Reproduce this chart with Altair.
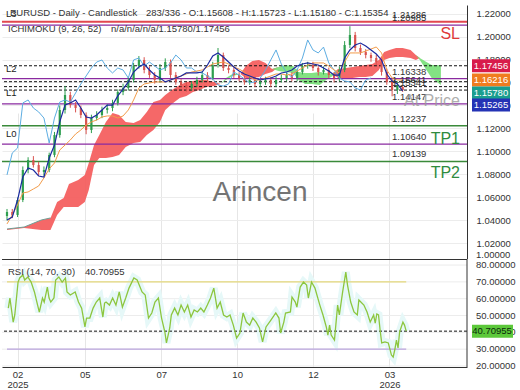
import altair as alt
import pandas as pd

# ---------------- data ----------------
candle_bar = list(range(0, 304, 4))
candle_open = [1.0440, 1.0474, 1.0448, 1.0578, 1.0839, 1.0926, 1.0882, 1.0822, 1.0839, 1.0970,
               1.1143, 1.1361, 1.1491, 1.1404, 1.1378, 1.1317, 1.1187, 1.1291, 1.1317, 1.1361,
               1.1378, 1.1422, 1.1517, 1.1552, 1.1622, 1.1743, 1.1796, 1.1709, 1.1665, 1.1622,
               1.1726, 1.1778, 1.1665, 1.1605, 1.1578, 1.1552, 1.1587, 1.1622, 1.1665, 1.1639,
               1.1752, 1.1839, 1.1726, 1.1709, 1.1665, 1.1639, 1.1605, 1.1622, 1.1587, 1.1605,
               1.1622, 1.1587, 1.1622, 1.1639, 1.1665, 1.1639, 1.1691, 1.1743, 1.1752, 1.1726,
               1.1691, 1.1709, 1.1665, 1.1639, 1.1709, 1.1926, 1.2013, 1.1900, 1.1865, 1.1839,
               1.1813, 1.1778, 1.1691, 1.1605, 1.1535, 1.1561]
candle_high = [1.0500, 1.0500, 1.0600, 1.0870, 1.0950, 1.0960, 1.0910, 1.0870, 1.0990, 1.1170,
               1.1400, 1.1570, 1.1520, 1.1430, 1.1400, 1.1340, 1.1320, 1.1350, 1.1390, 1.1410,
               1.1450, 1.1540, 1.1590, 1.1650, 1.1770, 1.1830, 1.1820, 1.1740, 1.1690, 1.1760,
               1.1810, 1.1800, 1.1690, 1.1630, 1.1600, 1.1610, 1.1650, 1.1700, 1.1690, 1.1780,
               1.1900, 1.1860, 1.1750, 1.1730, 1.1690, 1.1660, 1.1650, 1.1650, 1.1630, 1.1650,
               1.1650, 1.1650, 1.1670, 1.1690, 1.1690, 1.1720, 1.1770, 1.1780, 1.1780, 1.1750,
               1.1740, 1.1730, 1.1690, 1.1740, 1.1960, 1.2090, 1.2040, 1.1930, 1.1890, 1.1860,
               1.1840, 1.1800, 1.1720, 1.1630, 1.1610, 1.1572]
candle_low = [1.0400, 1.0420, 1.0430, 1.0560, 1.0810, 1.0860, 1.0790, 1.0790, 1.0820, 1.0950,
              1.1120, 1.1330, 1.1380, 1.1340, 1.1290, 1.1150, 1.1160, 1.1270, 1.1290, 1.1330,
              1.1350, 1.1400, 1.1490, 1.1530, 1.1600, 1.1720, 1.1680, 1.1640, 1.1590, 1.1600,
              1.1700, 1.1640, 1.1580, 1.1550, 1.1520, 1.1530, 1.1560, 1.1600, 1.1610, 1.1620,
              1.1730, 1.1700, 1.1680, 1.1640, 1.1610, 1.1580, 1.1580, 1.1560, 1.1560, 1.1580,
              1.1560, 1.1560, 1.1600, 1.1610, 1.1610, 1.1610, 1.1670, 1.1720, 1.1700, 1.1660,
              1.1670, 1.1640, 1.1600, 1.1610, 1.1690, 1.1900, 1.1870, 1.1840, 1.1810, 1.1780,
              1.1750, 1.1660, 1.1580, 1.1480, 1.1500, 1.1518]
candle_close = [1.0474, 1.0448, 1.0578, 1.0839, 1.0926, 1.0882, 1.0822, 1.0839, 1.0970, 1.1143,
                1.1361, 1.1491, 1.1404, 1.1378, 1.1317, 1.1187, 1.1291, 1.1317, 1.1361, 1.1378,
                1.1422, 1.1517, 1.1552, 1.1622, 1.1743, 1.1796, 1.1709, 1.1665, 1.1622, 1.1726,
                1.1778, 1.1665, 1.1605, 1.1578, 1.1552, 1.1587, 1.1622, 1.1665, 1.1639, 1.1752,
                1.1839, 1.1726, 1.1709, 1.1665, 1.1639, 1.1605, 1.1622, 1.1587, 1.1605, 1.1622,
                1.1587, 1.1622, 1.1639, 1.1665, 1.1639, 1.1691, 1.1743, 1.1752, 1.1726, 1.1691,
                1.1709, 1.1665, 1.1639, 1.1709, 1.1926, 1.2013, 1.1900, 1.1865, 1.1839, 1.1813,
                1.1778, 1.1691, 1.1605, 1.1535, 1.1578, 1.1535]

tenkan = [1.0404, 1.0430, 1.0578, 1.0778, 1.0857, 1.0839, 1.0787, 1.0778, 1.0943, 1.1056,
          1.1257, 1.1404, 1.1422, 1.1448, 1.1378, 1.1300, 1.1291, 1.1317, 1.1361, 1.1404,
          1.1404, 1.1483, 1.1543, 1.1605, 1.1691, 1.1735, 1.1761, 1.1709, 1.1665, 1.1639,
          1.1605, 1.1622, 1.1639, 1.1657, 1.1683, 1.1683, 1.1683, 1.1691, 1.1752, 1.1830,
          1.1857, 1.1822, 1.1778, 1.1735, 1.1700, 1.1674, 1.1657, 1.1639, 1.1622, 1.1631,
          1.1639, 1.1657, 1.1683, 1.1691, 1.1709, 1.1743, 1.1761, 1.1770, 1.1761, 1.1752,
          1.1726, 1.1700, 1.1665, 1.1665, 1.1813, 1.1883, 1.1926, 1.1943, 1.1917, 1.1883,
          1.1848, 1.1796, 1.1674, 1.1613, 1.1587, 1.15265]
kijun = [1.0370, 1.0448, 1.0535, 1.0639, 1.0648, 1.0674, 1.0700, 1.0770, 1.0848, 1.0900,
         1.1013, 1.1056, 1.1100, 1.1152, 1.1187, 1.1230, 1.1257, 1.1274, 1.1300, 1.1309,
         1.1309, 1.1291, 1.1309, 1.1361, 1.1448, 1.1552, 1.1587, 1.1596, 1.1605, 1.1605,
         1.1605, 1.1622, 1.1639, 1.1657, 1.1674, 1.1691, 1.1700, 1.1709, 1.1735, 1.1761,
         1.1770, 1.1778, 1.1761, 1.1735, 1.1717, 1.1691, 1.1648, 1.1622, 1.1622, 1.1639,
         1.1657, 1.1674, 1.1674, 1.1665, 1.1674, 1.1700, 1.1726, 1.1752, 1.1770, 1.1770,
         1.1770, 1.1743, 1.1709, 1.1683, 1.1778, 1.1857, 1.1857, 1.1857, 1.1874, 1.1891,
         1.1909, 1.1857, 1.1709, 1.1639, 1.1622, 1.16216]
chikou = [1.0796, 1.0987, 1.1030, 1.1422, 1.1448, 1.1378, 1.1344, 1.1291, 1.1074, 1.1291,
          1.1430, 1.1448, 1.1430, 1.1509, 1.1587, 1.1657, 1.1726, 1.1778, 1.1796, 1.1726,
          1.1683, 1.1726, 1.1709, 1.1639, 1.1796, 1.1813, 1.1743, 1.1778, 1.1743, 1.1709,
          1.1726, 1.1770, 1.1839, 1.1796, 1.1726, 1.1726, 1.1691, 1.1683, 1.1657, 1.1630,
          1.1578, 1.1569, 1.1587, 1.1691, 1.1665, 1.1630, 1.1596, 1.1605, 1.1639, 1.1709,
          1.1796, 1.1883, 1.1761, 1.1683, 1.1648, 1.1709, 1.1813, 1.1970, 1.1883, 1.1857,
          1.1908, 1.1770, 1.1709, 1.1639, 1.1613, 1.1605, 1.1552, 1.1535, 1.1622, 1.1639]

# (bar, senkou A, senkou B)
cloud = [(0, 1.0326, 1.0317), (13, 1.0343, 1.0335), (26, 1.0404, 1.0317), (33, 1.0422, 1.0317),
         (38, 1.0561, 1.0448), (43, 1.0596, 1.0517), (47, 1.0717, 1.0517), (54, 1.0752, 1.0517),
         (59, 1.0796, 1.0561), (62, 1.0900, 1.0665), (66, 1.1056, 1.0882), (70, 1.1143, 1.0943),
         (75, 1.1257, 1.0943), (80, 1.1335, 1.0952), (85, 1.1317, 1.0970), (90, 1.1257, 1.1039),
         (96, 1.1248, 1.1074), (101, 1.1274, 1.1083), (106, 1.1343, 1.1143), (111, 1.1430, 1.1187),
         (116, 1.1448, 1.1257), (120, 1.1491, 1.1361), (125, 1.1535, 1.1413), (131, 1.1578, 1.1465),
         (136, 1.1605, 1.1483), (141, 1.1613, 1.1517), (146, 1.1622, 1.1535), (151, 1.1622, 1.1561),
         (157, 1.1605, 1.1569), (162, 1.1587, 1.1587), (166, 1.1622, 1.1639), (171, 1.1657, 1.1674),
         (177, 1.1674, 1.1674), (181, 1.1743, 1.1639), (186, 1.1787, 1.1639), (191, 1.1796, 1.1648),
         (196, 1.1770, 1.1674), (201, 1.1717, 1.1691), (206, 1.1700, 1.1735), (211, 1.1691, 1.1752),
         (217, 1.1683, 1.1743), (221, 1.1622, 1.1691), (226, 1.1587, 1.1683), (231, 1.1587, 1.1683),
         (237, 1.1578, 1.1691), (242, 1.1622, 1.1683), (247, 1.1657, 1.1674), (251, 1.1717, 1.1639),
         (257, 1.1726, 1.1639), (262, 1.1735, 1.1639), (267, 1.1743, 1.1648), (272, 1.1752, 1.1648),
         (277, 1.1761, 1.1657), (282, 1.1796, 1.1709), (286, 1.1865, 1.1796), (290, 1.1883, 1.1813),
         (295, 1.1900, 1.1822), (300, 1.1900, 1.1822), (306, 1.1883, 1.1813), (310, 1.1839, 1.1796),
         (313, 1.1796, 1.1813), (318, 1.1709, 1.1778), (322, 1.1639, 1.1752), (326, 1.1605, 1.1752),
         (329, 1.1578, 1.17456)]

rsi_points = [(1.0, 54.4), (2.2, 60.4), (4.7, 46.1), (5.9, 50.3), (8.4, 69.9), (9.6, 72.3), (12.1, 74.1),
              (13.4, 71.1), (15.8, 72.9), (18.3, 69.9), (20.8, 64.0), (23.2, 56.2), (24.5, 52.1), (26.9, 60.4),
              (28.2, 58.0), (30.6, 66.9), (31.9, 60.4), (33.2, 58.0), (35.6, 60.4), (36.9, 71.1), (39.3, 72.9),
              (41.8, 69.9), (44.3, 72.3), (45.5, 64.0), (48, 62.2), (51.7, 64.0), (54.2, 58.0), (56.6, 54.4),
              (59.1, 43.2), (60.3, 48.5), (62.8, 48.5), (65.3, 54.4), (67.7, 58.0), (70.3, 60.4), (72.7, 49.1),
              (74, 57.4), (75.1, 58.0), (77.7, 56.2), (80.1, 60.4), (82.6, 56.2), (85.1, 64.0), (87.5, 55.0),
              (90, 60.4), (92.5, 66.3), (96.2, 72.3), (98.7, 71.1), (102.4, 64.0), (104.8, 62.2), (107.3, 48.5),
              (109.8, 51.5), (112.2, 58.0), (114.8, 60.4), (117.2, 48.5), (119.7, 40.2), (120.9, 33.7),
              (123.4, 42.6), (124.6, 50.3), (127.1, 54.4), (129.6, 50.3), (132, 56.2), (134.5, 52.1),
              (137, 56.2), (139.5, 49.1), (141.9, 53.3), (144.4, 52.1), (146.9, 54.4), (149.3, 52.1),
              (151.9, 56.2), (154.3, 60.4), (156.8, 66.3), (159.3, 54.4), (161.7, 58.0), (164.2, 50.3),
              (166.7, 49.1), (169.1, 50.3), (171.6, 44.3), (174.1, 36.6), (176.6, 39.6), (179, 51.5),
              (181.5, 46.1), (184, 44.3), (186.4, 48.5), (188.9, 46.1), (191.4, 42.6), (193.8, 34.3),
              (196.4, 43.2), (200.1, 47.3), (203.8, 51.5), (206.2, 48.5), (207.5, 39.6), (209.9, 46.1),
              (211.2, 51.5), (214.9, 52.1), (216.1, 61.0), (218.6, 58.0), (219.8, 55.0), (222.3, 66.9),
              (224.8, 69.9), (227.2, 68.1), (228.5, 60.4), (230.9, 69.9), (233.5, 66.3), (237.2, 56.2),
              (239.6, 50.3), (242.1, 43.2), (243.3, 38.4), (244.6, 44.3), (245.8, 38.4), (248.3, 35.4),
              (250.7, 56.2), (252, 50.3), (254.5, 64.0), (256.9, 75.8), (258.2, 68.1), (260.6, 58.0),
              (263.1, 52.1), (265.6, 50.3), (266.8, 59.2), (270.6, 56.2), (273, 52.1), (275.4, 46.1),
              (278, 50.3), (279.2, 45.5), (280.4, 50.9), (281.7, 50.3), (282.9, 41.4), (284.1, 33.7),
              (286.6, 34.3), (289.1, 33.7), (291.5, 26.5), (292.8, 25.3), (294, 29.5), (295.3, 35.4),
              (296.5, 30.7), (297.7, 40.2), (300.2, 46.1), (301.4, 44.3), (302.7, 40.7)]
rsi_last = 40.70955
rsi_bands = [70, 30]
rsi_band_colors = ["#e3d77a", "#b9a3dc"]

tick_bars = [8, 59, 117, 174.5, 232, 290]
tick_text = [["02", "2025"], ["05"], ["07"], ["10"], ["12"], ["03", "2026"]]

lvl_price = [1.21286, 1.20985, 1.17456, 1.16338, 1.16070, 1.15641, 1.15341, 1.14147, 1.12237, 1.10640, 1.09139]
lvl_color = ["#e2474f", "#8a2aa0", "#111111", "#8a2aa0", "#111111", "#111111", "#111111",
             "#8a2aa0", "#3a8a3a", "#8a2aa0", "#3a8a3a"]
lvl_dashed = [False, False, True, False, True, True, True, False, False, False, False]
lvl_width = [2, 1.3, 1, 1.3, 1, 1, 1, 1.3, 1.5, 1.3, 1.5]
lvl_label = ["1.21286", "1.20985", "", "1.16338", "", "1.15641", "1.15341", "1.14147", "1.12237", "1.10640", "1.09139"]

tag_value = [1.17456, 1.16216, 1.15780, 1.15265]
tag_color = ["#d81b4b", "#f07c1e", "#1a9e8f", "#2433b5"]
tag_shift = [0, 0, 8, 14]

price_ticks = [1.02, 1.04, 1.06, 1.08, 1.10, 1.12, 1.14, 1.16, 1.18, 1.20, 1.22]
rsi_ticks = [20, 30, 40, 50, 60, 70, 80]

FONT = "Liberation Sans"
W, H = 465, 362          # whole plot area (price pane on top, RSI pane below)
PRICE_RANGE = [254, 0]   # pixel band of the price pane
RSI_RANGE = [362, 255]   # pixel band of the RSI pane

# ---------------- tables ----------------
candles = pd.DataFrame({"bar": candle_bar, "open": candle_open, "high": candle_high,
                        "low": candle_low, "close": candle_close})
lines = pd.DataFrame({"bar": candle_bar, "tenkan": tenkan, "kijun": kijun})
chik = pd.DataFrame({"bar": candle_bar[:len(chikou)], "chikou": chikou})
cloud_df = pd.DataFrame(cloud, columns=["bar", "a", "b"])
rsi_df = pd.DataFrame(rsi_points, columns=["bar", "rsi"])
lv = pd.DataFrame({"price": lvl_price, "color": lvl_color, "dashed": lvl_dashed,
                   "width": lvl_width, "label": lvl_label})
rsi_tick_df = pd.DataFrame({"t": rsi_ticks, "lbl": ["%.5f" % t for t in rsi_ticks]})


def label_expr(vals, texts):
    expr = "''"
    for v, t in reversed(list(zip(vals, texts))):
        lit = "[" + ",".join("'%s'" % s for s in t) + "]" if len(t) > 1 else "'%s'" % t[0]
        expr = "datum.value == %s ? %s : (%s)" % (v, lit, expr)
    return expr


xscale = alt.Scale(domain=[0, 345], nice=False, zero=False)
x_axis = alt.Axis(values=tick_bars, labelExpr=label_expr(tick_bars, tick_text), ticks=False, grid=True,
                  gridColor="#e6e6e6", domainColor="#333333", labelPadding=2, labelFontSize=9.5,
                  labelLineHeight=10, labelFlush=False, labelOverlap=False, title=None, labelColor="#333333")
yscale = alt.Scale(domain=[1.0065, 1.2274], range=PRICE_RANGE, nice=False, zero=False)
y_axis = alt.Axis(orient="right", values=price_ticks, format=".5f", ticks=False, labelPadding=9, grid=True,
                  gridColor="#ececec", domain=True, domainColor="#333333", title=None,
                  labelFontSize=9.5, labelColor="#333333")
rscale = alt.Scale(domain=[19.4, 83], range=RSI_RANGE, nice=False, zero=False)


def X(f):
    return alt.X(f, scale=xscale, axis=x_axis)


def Y(f):
    return alt.Y(f, scale=yscale, axis=y_axis)


def YR(f):
    return alt.Y(f, scale=rscale, axis=None)


def note(text, x, y, size=9.5, color="#333333", align="left", **kw):
    return alt.Chart(alt.Data(values=[{}])).mark_text(
        text=text, fontSize=size, color=color, align=align, baseline="middle", font=FONT, **kw
    ).encode(x=alt.value(x), y=alt.value(y))


def frame(x, x2, y, y2):
    return alt.Chart(alt.Data(values=[{}])).mark_rule(color="#333333", strokeWidth=1).encode(
        x=alt.value(x), x2=alt.value(x2), y=alt.value(y), y2=alt.value(y2))


candle_col = "datum.close >= datum.open ? '#2e9e4f' : '#d9534f'"

# ---------------- price pane ----------------
red_cloud = alt.Chart(cloud_df).transform_calculate(top="max(datum.a, datum.b)").mark_area(
    color="#f45b5b", opacity=0.92).encode(x=X("bar:Q"), y=Y("b:Q"), y2="top:Q")
green_cloud = alt.Chart(cloud_df).transform_calculate(top="max(datum.a, datum.b)").mark_area(
    color="#78e078", opacity=0.92).encode(x=X("bar:Q"), y=Y("a:Q"), y2="top:Q")
early_a = alt.Chart(cloud_df).transform_filter("datum.bar <= 33").mark_line(
    color="#6f9e95", strokeWidth=1).encode(x=X("bar:Q"), y=Y("a:Q"))

rules_solid = alt.Chart(lv).transform_filter("!datum.dashed").mark_rule().encode(
    y=Y("price:Q"), color=alt.Color("color:N", scale=None),
    strokeWidth=alt.StrokeWidth("width:Q", scale=None))
rules_dash = alt.Chart(lv).transform_filter("datum.dashed").mark_rule(strokeDash=[3, 2]).encode(
    y=Y("price:Q"), color=alt.Color("color:N", scale=None),
    strokeWidth=alt.StrokeWidth("width:Q", scale=None))

wick = alt.Chart(candles).transform_calculate(col=candle_col).mark_rule(strokeWidth=1).encode(
    x=X("bar:Q"), y=Y("low:Q"), y2="high:Q", color=alt.Color("col:N", scale=None))
body = alt.Chart(candles).transform_calculate(col=candle_col).mark_bar(size=2.2).encode(
    x=X("bar:Q"), y=Y("open:Q"), y2="close:Q", color=alt.Color("col:N", scale=None))

chik_line = alt.Chart(chik).mark_line(color="#5dade2", strokeWidth=1).encode(x=X("bar:Q"), y=Y("chikou:Q"))
kij_line = alt.Chart(lines).mark_line(color="#f39c4a", strokeWidth=1).encode(x=X("bar:Q"), y=Y("kijun:Q"))
ten_line = alt.Chart(lines).mark_line(color="#1c2aa0", strokeWidth=1.2).encode(x=X("bar:Q"), y=Y("tenkan:Q"))

lvl_text = alt.Chart(lv).transform_filter("datum.label != ''").mark_text(
    align="left", baseline="middle", dy=-7, fontSize=9.5, color="#333333", font=FONT).encode(
    x=alt.value(390), y=Y("price:Q"), text="label:N")

tags = []
for v, c, s in zip(tag_value, tag_color, tag_shift):
    d = pd.DataFrame({"p": [v], "lbl": ["%.5f" % v]})
    tags.append(alt.Chart(d).mark_rule(strokeWidth=13, color=c, yOffset=s).encode(
        x=alt.value(470), x2=alt.value(508), y=Y("p:Q")))
    tags.append(alt.Chart(d).mark_text(color="white", yOffset=s, fontSize=9.5, align="center",
                                       baseline="middle", font=FONT).encode(
        x=alt.value(489), y=Y("p:Q"), text="lbl:N"))

price_pane = alt.layer(red_cloud, green_cloud, early_a, rules_solid, rules_dash, wick, body,
                       chik_line, kij_line, ten_line, lvl_text, *tags)

# ---------------- RSI pane ----------------
band_df = pd.DataFrame({"lvl": rsi_bands, "start": [0, 0], "end": [rsi_points[-1][0]] * 2,
                        "color": rsi_band_colors})
last_df = pd.DataFrame({"v": [rsi_last], "lbl": ["%.5f" % rsi_last]})

rsi_grid = alt.Chart(rsi_tick_df).mark_rule(color="#ececec", strokeWidth=1).encode(y=YR("t:Q"))
rsi_labels = alt.Chart(rsi_tick_df).mark_text(align="left", baseline="middle", fontSize=9.5,
                                              color="#333333", font=FONT).encode(
    x=alt.value(474), y=YR("t:Q"), text="lbl:N")
glow = alt.Chart(rsi_df).mark_line(color="#e6f8f8", strokeWidth=8).encode(x=X("bar:Q"), y=YR("rsi:Q"))
bands = alt.Chart(band_df).mark_rule(strokeWidth=1.2).encode(
    x=X("start:Q"), x2="end:Q", y=YR("lvl:Q"), color=alt.Color("color:N", scale=None))
last_rule = alt.Chart(last_df).mark_rule(strokeDash=[3, 2], color="#111111").encode(y=YR("v:Q"))
rsi_line = alt.Chart(rsi_df).mark_line(color="#8cc63e", strokeWidth=1.3).encode(x=X("bar:Q"), y=YR("rsi:Q"))
rsi_tag = alt.Chart(last_df).mark_rule(strokeWidth=13, color="#5cc83a").encode(
    x=alt.value(470), x2=alt.value(511), y=YR("v:Q"))
rsi_tag_text = alt.Chart(last_df).mark_text(color="#0b2a0b", fontSize=9.5, align="center",
                                            baseline="middle", font=FONT).encode(
    x=alt.value(490), y=YR("v:Q"), text="lbl:N")

rsi_pane = alt.layer(rsi_grid, rsi_labels, glow, bands, last_rule, rsi_line, rsi_tag, rsi_tag_text)

# ---------------- annotations ----------------
texts = alt.layer(
    frame(0, W, 254.5, 254.5),
    frame(W, W, 255, H),
    note("Arincen", 258, 188, size=28, color="#666666", align="center", opacity=0.9),
    note("EURUSD - Daily - Candlestick", 8, 8),
    note("283/336 - O:1.15608 - H:1.15723 - L:1.15180 - C:1.15354", 144, 8),
    note("ICHIMOKU (9, 26, 52)", 6, 24),
    note("n/a/n/a/n/a/1.15780/1.17456", 109, 24),
    note("L3", 4, 9, color="#222222"),
    note("L2", 4, 64, color="#222222"),
    note("L1", 4, 88, color="#222222"),
    note("L0", 4, 129, color="#222222"),
    note("SL", 458, 29, size=16, color="#e03a3a", align="right"),
    note("TP1", 458, 134, size=16, color="#2e8b3e", align="right"),
    note("TP2", 458, 168, size=16, color="#2e8b3e", align="right"),
    note("At Price", 430, 96, size=16, color="#9a9a9a", align="center", opacity=0.8),
    note("1.00000", 474, 250),
    note("RSI (14, 70, 30)", 6, 267),
    note("40.70955", 83, 267),
)

chart = alt.layer(price_pane, rsi_pane, texts).resolve_scale(y="independent").properties(
    width=W, height=H, padding={"left": 2, "top": 5, "right": 53, "bottom": 23}, background="white",
    autosize=alt.AutoSizeParams(type="none")
).configure(font=FONT).configure_view(stroke=None)

chart.save("out.html", embed_options={"renderer": "svg", "actions": False})
